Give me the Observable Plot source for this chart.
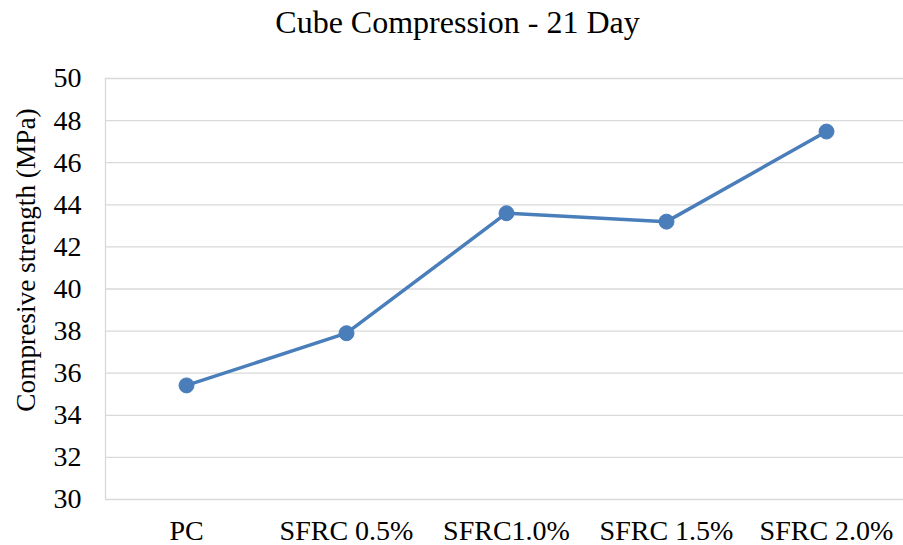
<!DOCTYPE html>
<html><head><meta charset="utf-8">
<script src="https://cdn.jsdelivr.net/npm/d3@7"></script>
<script src="https://cdn.jsdelivr.net/npm/@observablehq/plot@0.6"></script>
<style>
body{margin:0;background:#fff;}
#wrap{position:relative;width:903px;height:545px;font-family:"Liberation Serif",Tinos,"Times New Roman",Times,"DejaVu Serif",serif;color:#000;}
#title{position:absolute;left:6px;top:6px;width:903px;text-align:center;font-size:32px;line-height:32px;white-space:nowrap;}
#ylabel{position:absolute;left:26px;top:260px;transform:translate(-50%,-50%) rotate(-90deg);font-size:27.3px;line-height:27px;white-space:nowrap;}
#chart{position:absolute;left:0;top:0;}
#chart svg text{font-family:"Liberation Serif",Tinos,"Times New Roman",Times,"DejaVu Serif",serif;font-variant:normal;}
</style></head>
<body>
<div id="wrap">
  <div id="chart"></div>
  <div id="title">Cube Compression - 21 Day</div>
  <div id="ylabel">Compresive strength (MPa)</div>
</div>
<script>
const categories = ["PC", "SFRC 0.5%", "SFRC1.0%", "SFRC 1.5%", "SFRC 2.0%"];
const strength = [35.42, 37.9, 43.6, 43.2, 47.48];
const yTicks = [30, 32, 34, 36, 38, 40, 42, 44, 46, 48, 50];

const data = categories.map((c, i) => ({cat: c, val: strength[i]}));
const blue = "#4a7ebb";
const grid = "#d9d9d9";
const serif = '"Liberation Serif",Tinos,"Times New Roman",Times,"DejaVu Serif",serif';

const chart = Plot.plot({
  width: 903,
  height: 545,
  marginTop: 78,
  marginBottom: 46,
  marginLeft: 105,
  marginRight: 0,
  style: {fontFamily: serif, fontSize: "28px", color: "#000", background: "#fff"},
  x: {type: "point", domain: categories, range: [184, 827], padding: 0, label: null},
  y: {domain: [30, 50], label: null},
  marks: [
    Plot.gridY(yTicks, {stroke: grid, strokeOpacity: 1, strokeWidth: 1.3}),
    Plot.ruleX([0], {x: null, dx: -399, stroke: grid, strokeWidth: 1.3}),
    Plot.axisY(yTicks, {tickSize: 0, tickPadding: 24, label: null, fontSize: 28, fontFamily: serif, fontVariant: "normal"}),
    Plot.axisX({tickSize: 0, tickPadding: 21, label: null, fontSize: 28, fontFamily: serif}),
    Plot.line(data, {x: "cat", y: "val", stroke: blue, strokeWidth: 3.5}),
    Plot.dot(data, {x: "cat", y: "val", fill: blue, r: 7.5, stroke: blue, strokeWidth: 1})
  ]
});
document.getElementById("chart").appendChild(chart);
</script>
</body></html>
